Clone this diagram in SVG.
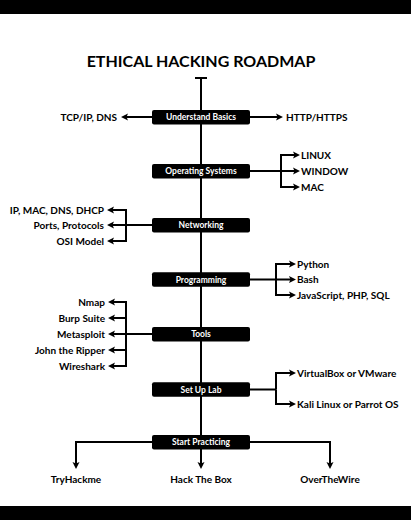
<svg xmlns="http://www.w3.org/2000/svg" width="411" height="520" viewBox="0 0 411 520">
<defs>
<style>
.bg{fill:#fff}
.band{fill:#000}
.box{fill:#000}
.bt{font-family:Lato,"Liberation Sans",sans-serif;font-weight:bold;font-size:8.5px;fill:#fff;text-anchor:middle}
.lb{font-family:Lato,"Liberation Sans",sans-serif;font-weight:bold;font-size:10px;fill:#000}
.title{font-family:Lato,"Liberation Sans",sans-serif;font-weight:bold;font-size:16px;fill:#000;text-anchor:middle}
.c{fill:none;stroke:#000;stroke-width:2;stroke-linejoin:miter}
.e{text-anchor:end}
</style>
<marker id="ah" markerUnits="userSpaceOnUse" markerWidth="8" markerHeight="8" viewBox="0 0 8 8" refX="3" refY="4" orient="auto">
<path d="M0,0.5 L7,4 L0,7.5 L1.5,4 Z" fill="#000"/>
</marker>
</defs>
<rect class="bg" x="0" y="0" width="411" height="520"/>
<rect class="band" x="0" y="0" width="411" height="14"/>
<rect class="band" x="0" y="506" width="411" height="14"/>
<text class="title" x="201" y="67">ETHICAL HACKING ROADMAP</text>
<g id="connectors">
<path class="c" d="M195,78 H207"/>
<path class="c" d="M201,78 V465" marker-end="url(#ah)"/>
<path class="c" d="M152,117 H125" marker-end="url(#ah)"/>
<path class="c" d="M250,117 H279" marker-end="url(#ah)"/>
<path class="c" d="M250,171 H296" marker-end="url(#ah)"/>
<path class="c" d="M281,171 V155 H296" marker-end="url(#ah)"/>
<path class="c" d="M281,171 V187 H296" marker-end="url(#ah)"/>
<path class="c" d="M152,225 H111" marker-end="url(#ah)"/>
<path class="c" d="M126,225 V210 H111" marker-end="url(#ah)"/>
<path class="c" d="M126,225 V241 H111" marker-end="url(#ah)"/>
<path class="c" d="M250,279.5 H292" marker-end="url(#ah)"/>
<path class="c" d="M276,279.5 V264 H292" marker-end="url(#ah)"/>
<path class="c" d="M276,279.5 V295 H292" marker-end="url(#ah)"/>
<path class="c" d="M152,334 H112" marker-end="url(#ah)"/>
<path class="c" d="M126,334 V302 H112" marker-end="url(#ah)"/>
<path class="c" d="M126,318 H112" marker-end="url(#ah)"/>
<path class="c" d="M126,334 V366 H112" marker-end="url(#ah)"/>
<path class="c" d="M126,350 H112" marker-end="url(#ah)"/>
<path class="c" d="M250,389.5 H276"/>
<path class="c" d="M276,389.5 V373 H292" marker-end="url(#ah)"/>
<path class="c" d="M276,389.5 V404 H292" marker-end="url(#ah)"/>
<path class="c" d="M152,442 H76 V465" marker-end="url(#ah)"/>
<path class="c" d="M250,442 H330 V465" marker-end="url(#ah)"/>
</g>
<g id="n-basics"><rect class="box" x="152" y="110" width="98" height="14.5" rx="2"/><text class="bt" x="201" y="120.3">Understand Basics</text></g>
<g id="n-os"><rect class="box" x="152" y="164" width="98" height="14.5" rx="2"/><text class="bt" x="201" y="174.3">Operating Systems</text></g>
<g id="n-net"><rect class="box" x="152" y="218" width="98" height="14.5" rx="2"/><text class="bt" x="201" y="228.3">Networking</text></g>
<g id="n-prog"><rect class="box" x="152" y="272.3" width="98" height="14.5" rx="2"/><text class="bt" x="201" y="282.6">Programming</text></g>
<g id="n-tools"><rect class="box" x="152" y="327" width="98" height="14.5" rx="2"/><text class="bt" x="201" y="337.3">Tools</text></g>
<g id="n-lab"><rect class="box" x="152" y="382.3" width="98" height="14.5" rx="2"/><text class="bt" x="201" y="392.6">Set Up Lab</text></g>
<g id="n-practice"><rect class="box" x="152" y="435" width="98" height="14.5" rx="2"/><text class="bt" x="201" y="445.3">Start Practicing</text></g>
<g id="n-tcp"><text class="lb e" x="117" y="120.5">TCP/IP, DNS</text></g>
<g id="n-http"><text class="lb" x="286" y="120.5">HTTP/HTTPS</text></g>
<g id="n-linux"><text class="lb" x="301" y="158.5">LINUX</text></g>
<g id="n-window"><text class="lb" x="301" y="174.5">WINDOW</text></g>
<g id="n-mac"><text class="lb" x="301" y="190.5">MAC</text></g>
<g id="n-ipmac"><text class="lb e" x="104" y="213.5">IP, MAC, DNS, DHCP</text></g>
<g id="n-ports"><text class="lb e" x="104" y="228.5">Ports, Protocols</text></g>
<g id="n-osi"><text class="lb e" x="104" y="244.5">OSI Model</text></g>
<g id="n-python"><text class="lb" x="297" y="267.5">Python</text></g>
<g id="n-bash"><text class="lb" x="297" y="283">Bash</text></g>
<g id="n-js"><text class="lb" x="297" y="298.5">JavaScript, PHP, SQL</text></g>
<g id="n-nmap"><text class="lb e" x="105" y="305.5">Nmap</text></g>
<g id="n-burp"><text class="lb e" x="105" y="321.5">Burp Suite</text></g>
<g id="n-meta"><text class="lb e" x="105" y="337.5">Metasploit</text></g>
<g id="n-john"><text class="lb e" x="105" y="353.5">John the Ripper</text></g>
<g id="n-wire"><text class="lb e" x="105" y="369.5">Wireshark</text></g>
<g id="n-vbox"><text class="lb" x="297" y="376.5">VirtualBox or VMware</text></g>
<g id="n-kali"><text class="lb" x="297" y="407.5">Kali Linux or Parrot OS</text></g>
<g id="n-thm"><text class="lb" x="76" y="483" text-anchor="middle">TryHackme</text></g>
<g id="n-htb"><text class="lb" x="201" y="483" text-anchor="middle">Hack The Box</text></g>
<g id="n-otw"><text class="lb" x="330" y="483" text-anchor="middle">OverTheWire</text></g>
</svg>
